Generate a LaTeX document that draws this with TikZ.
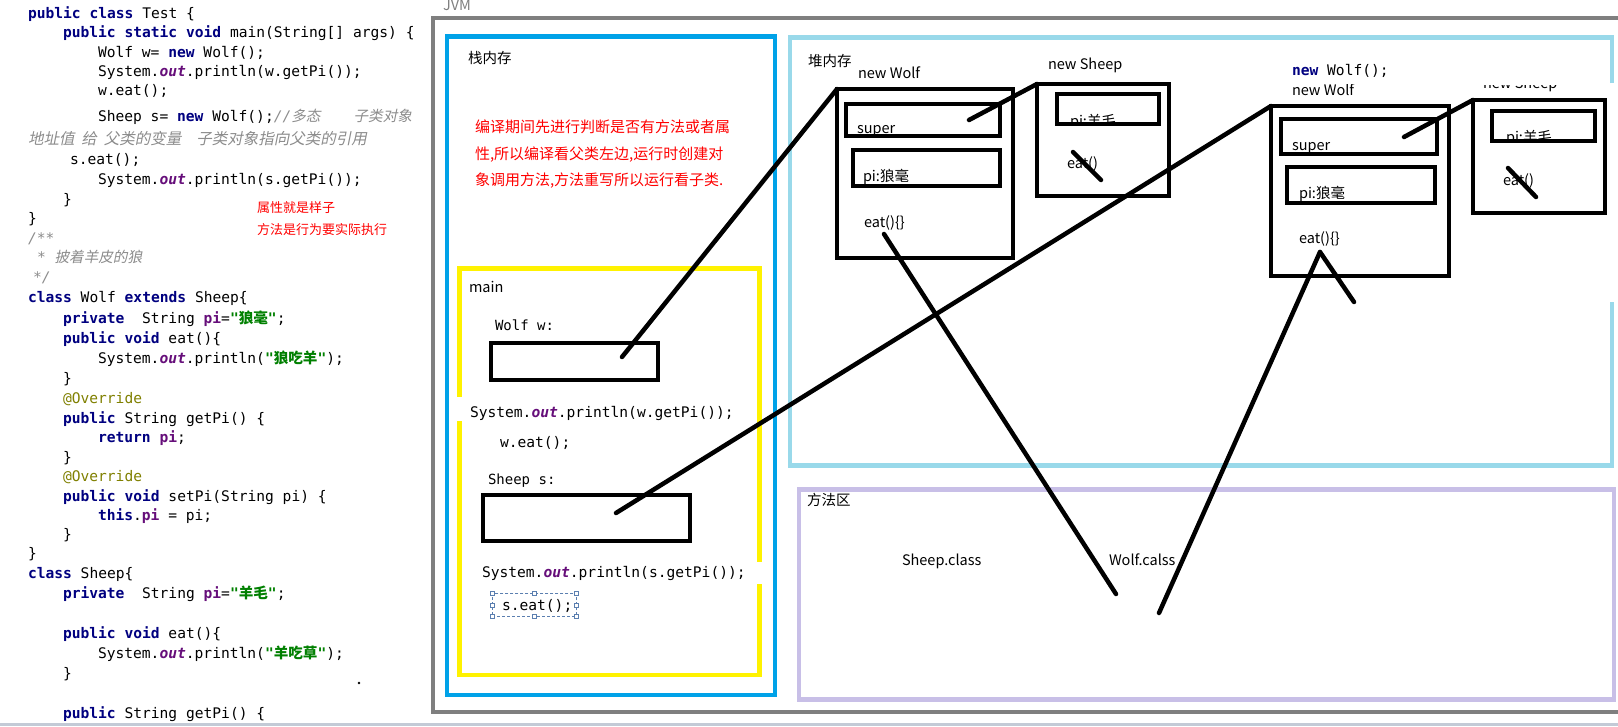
\documentclass[tikz,border=0pt]{standalone}
\usepackage{fontspec}
\usepackage{xcolor}
\setmonofont{DejaVu Sans Mono}
\newfontfamily\cjk{Noto Sans CJK SC}
\newfontfamily\cjkit[FakeSlant=0.2]{Noto Sans CJK SC}
\definecolor{kwc}{HTML}{000080}
\definecolor{fldc}{HTML}{660E7A}
\definecolor{strc}{HTML}{008000}
\definecolor{annc}{HTML}{808000}
\definecolor{cmc}{HTML}{8C8C8C}
\definecolor{jvmc}{HTML}{7F7F7F}
\definecolor{stackc}{HTML}{00A2E8}
\definecolor{yelc}{HTML}{FFF200}
\definecolor{heapc}{HTML}{99D9EA}
\definecolor{methc}{HTML}{C8BFE7}
\definecolor{botc}{HTML}{C3CAD6}
\definecolor{selc}{HTML}{5B7FB0}
\newcommand\kw[1]{\textcolor{kwc}{\bfseries #1}}
\newcommand\fld[1]{\textcolor{fldc}{\bfseries #1}}
\newcommand\outf{\textcolor{fldc}{\bfseries\itshape out}}
\newcommand\jstr[1]{\textcolor{strc}{\bfseries"{\cjk\bfseries #1}"}}
\newcommand\ann[1]{\textcolor{annc}{#1}}
\begin{document}
\begin{tikzpicture}[x=1pt,y=-1pt,
  code/.style={anchor=base west, inner sep=0pt, outer sep=0pt, font=\ttfamily\fontsize{14.6}{17}\selectfont},
  lbl/.style={anchor=base west, inner sep=0pt, outer sep=0pt, font=\cjk\fontsize{14.5}{17}\selectfont},
  redtxt/.style={anchor=base west, inner sep=0pt, outer sep=0pt, text=red, font=\cjk\fontsize{15}{18}\selectfont},
  region/.style={draw=#1, line width=4.5pt, anchor=north west, inner sep=0pt, outer sep=0pt},
  box/.style={draw=black, line width=4.5pt, anchor=north west, inner sep=0pt, outer sep=0pt},
  link/.style={draw=black, line width=4.5pt, line cap=round},
  handle/.style={draw=selc, fill=white, line width=0.6pt, minimum size=4pt, inner sep=0pt},
]
\useasboundingbox (0,0) rectangle (1618,726);
\fill[white] (0,0) rectangle (1618,726);

% ---------- code listing ----------
\node[code] (c1) at (28,18) {\kw{public} \kw{class} Test \{};
\node[code] (c2) at (63,37) {\kw{public} \kw{static} \kw{void} main(String[] args) \{};
\node[code] (c3) at (98,57) {Wolf w= \kw{new} Wolf();};
\node[code] (c4) at (98,76) {System.\outf.println(w.getPi());};
\node[code] (c5) at (98,95) {w.eat();};
\node[code] (c6) at (98,121) {Sheep s= \kw{new} Wolf();\textcolor{cmc}{\itshape //{\cjkit 多态}\hspace{33pt}{\cjkit 子类对象}}};
\node[code] (c7) at (28,144) {\textcolor{cmc}{\cjkit\fontsize{15.5}{18}\selectfont 地址值\hspace{7pt}给\hspace{7pt}父类的变量\hspace{15pt}子类对象指向父类的引用}};
\node[code] (c8) at (70,164) {s.eat();};
\node[code] (c9) at (98,184) {System.\outf.println(s.getPi());};
\node[code] (c10) at (63,204) {\}};
\node[code] (c11) at (28,223) {\}};
\node[code] (c12) at (28,243) {\textcolor{cmc}{\itshape /**}};
\node[code] (c13) at (37,262) {\textcolor{cmc}{\itshape *~{\cjkit 披着羊皮的狼}}};
\node[code] (c14) at (33,282) {\textcolor{cmc}{\itshape */}};
\node[code] (c15) at (28,302) {\kw{class} Wolf \kw{extends} Sheep\{};
\node[code] (c16) at (63,323) {\kw{private}~~String \fld{pi}=\jstr{狼毫};};
\node[code] (c17) at (63,343) {\kw{public} \kw{void} eat()\{};
\node[code] (c18) at (98,363) {System.\outf.println(\jstr{狼吃羊});};
\node[code] (c19) at (63,383) {\}};
\node[code] (c20) at (63,403) {\ann{@Override}};
\node[code] (c21) at (63,423) {\kw{public} String getPi() \{};
\node[code] (c22) at (98,442) {\kw{return} \fld{pi};};
\node[code] (c23) at (63,462) {\}};
\node[code] (c24) at (63,481) {\ann{@Override}};
\node[code] (c25) at (63,501) {\kw{public} \kw{void} setPi(String pi) \{};
\node[code] (c26) at (98,520) {\kw{this}.\fld{pi} = pi;};
\node[code] (c27) at (63,539) {\}};
\node[code] (c28) at (28,558) {\}};
\node[code] (c29) at (28,578) {\kw{class} Sheep\{};
\node[code] (c30) at (63,598) {\kw{private}~~String \fld{pi}=\jstr{羊毛};};
\node[code] (c31) at (63,638) {\kw{public} \kw{void} eat()\{};
\node[code] (c32) at (98,658) {System.\outf.println(\jstr{羊吃草});};
\node[code] (c33) at (63,678) {\}};
\node[code] (c34) at (63,718) {\kw{public} String getPi() \{};
\node[redtxt, font=\cjk\fontsize{13}{16}\selectfont] (n1) at (257,212) {属性就是样子};
\node[redtxt, font=\cjk\fontsize{13}{16}\selectfont] (n2) at (257,234) {方法是行为要实际执行};
\fill (359,683) circle (1.3);

% ---------- containers ----------
\draw[line width=4pt, draw=jvmc] (1630,18) -- (433,18) -- (433,712) -- (1630,712);
\node[lbl, text=jvmc] (jvm) at (443,10) {JVM};
\node[region=stackc, minimum width=328pt, minimum height=658.5pt] (stack) at (447,36.5) {};
\node[region=yelc, minimum width=300pt, minimum height=406.5pt] (mainf) at (459.5,268.5) {};
\fill[white] (455.5,397) rectangle (464.5,421);
\fill[white] (755,562) rectangle (764.5,584);
\draw[line width=4.5pt, draw=heapc] (1612,83) -- (1612,37.5) -- (790,37.5) -- (790,465.5) -- (1612,465.5) -- (1612,302);
\node[region=methc, minimum width=815pt, minimum height=210pt] (method) at (799,489.5) {};
\draw[line width=3pt, draw=botc] (0,724.5) -- (1618,724.5);

% ---------- stack contents ----------
\node[lbl] (stacklbl) at (468,63.5) {栈内存};
\node[redtxt] (r1) at (475,132) {编译期间先进行判断是否有方法或者属};
\node[redtxt] (r2) at (475,159) {性,所以编译看父类左边,运行时创建对};
\node[redtxt] (r3) at (475,185) {象调用方法,方法重写所以运行看子类.};
\node[lbl] (mainlbl) at (469,292) {main};
\node[code, font=\ttfamily\fontsize{14}{17}\selectfont] (wlbl) at (495,330) {Wolf w:};
\node[box, minimum width=167pt, minimum height=37pt] (wbox) at (491,343) {};
\node[code] (sp1) at (470,417) {System.\outf.println(w.getPi());};
\node[code] (we) at (500,447) {w.eat();};
\node[code, font=\ttfamily\fontsize{14}{17}\selectfont] (slbl) at (488,484) {Sheep s:};
\node[box, minimum width=207pt, minimum height=46pt] (sbox) at (483,495) {};
\node[code] (sp2) at (482,577) {System.\outf.println(s.getPi());};
\node[code] (se) at (502,610) {s.eat();};
\node[draw=selc, line width=0.7pt, dash pattern=on 3pt off 2pt, anchor=north west, inner sep=0pt, minimum width=84pt, minimum height=23pt] (sel) at (492,593) {};
\foreach \a/\n in {north west/1, north/2, north east/3, west/4, east/5, south west/6, south/7, south east/8}
  \node[handle] (hd\n) at (sel.\a) {};

% ---------- heap ----------
\node[lbl] (heaplbl) at (808,66) {堆内存};
\node[lbl] (nw1) at (858,78) {new Wolf};
\node[lbl] (ns1) at (1048,69) {new Sheep};
\node[lbl] (sup1t) at (857,133) {super};
\node[lbl] (pi1t) at (863,181) {pi:狼毫};
\node[lbl] (eat1t) at (864,227) {eat()\{\}};
\begin{scope}
  \clip (1040,90) rectangle (1165,124);
  \node[lbl] (ps1t) at (1070,126) {pi:羊毛};
\end{scope}
\node[lbl] (se1t) at (1067,168) {eat()};
\node[box, minimum width=176pt, minimum height=169pt] (wolf1) at (837,89) {};
\node[box, minimum width=154pt, minimum height=32pt] (super1) at (846,104) {};
\node[box, minimum width=147pt, minimum height=36pt] (pi1) at (853,150) {};
\node[box, minimum width=132pt, minimum height=112pt] (sheep1) at (1037,84) {};
\node[box, minimum width=102pt, minimum height=30pt] (ps1) at (1057,94) {};

\node[code] (nw2code) at (1292,75) {\kw{new} Wolf();};
\begin{scope}
  \clip (1280,84) rectangle (1400,100);
  \node[lbl] (nw2) at (1292,95) {new Wolf};
\end{scope}
\begin{scope}
  \clip (1470,85) rectangle (1600,92);
  \node[lbl] (ns2) at (1483,88) {new Sheep};
\end{scope}
\node[lbl] (sup2t) at (1292,150) {super};
\node[lbl] (pi2t) at (1299,198) {pi:狼毫};
\node[lbl] (eat2t) at (1299,243) {eat()\{\}};
\begin{scope}
  \clip (1480,105) rectangle (1600,141);
  \node[lbl] (ps2t) at (1506,142) {pi:羊毛};
\end{scope}
\node[lbl] (se2t) at (1503,185) {eat()};
\node[box, minimum width=178pt, minimum height=170pt] (wolf2) at (1271,106) {};
\node[box, minimum width=156pt, minimum height=35pt] (super2) at (1281,119) {};
\node[box, minimum width=148pt, minimum height=36pt] (pi2) at (1287,167) {};
\node[box, minimum width=132pt, minimum height=113pt] (sheep2) at (1473,100) {};
\node[box, minimum width=103pt, minimum height=30pt] (ps2) at (1492,111) {};

% ---------- method area ----------
\node[lbl] (methlbl) at (807,505) {方法区};
\node[lbl] (sheepcls) at (902,565) {Sheep.class};
\node[lbl] (wolfcls) at (1109,565) {Wolf.calss};

% ---------- connectors ----------
\coordinate (wref) at (622,357);
\coordinate (sref) at (616,513);
\coordinate (sup1p) at (969,120);
\coordinate (sup2p) at (1404,137);
\coordinate (eat1p) at (884,234);
\coordinate (eat2p) at (1320,252);
\coordinate (m1) at (1116,594);
\coordinate (m2) at (1159,613);
\coordinate (eat2q) at (1354,302);
\coordinate (x1a) at (1073,152);
\coordinate (x1b) at (1101,180);
\coordinate (x2a) at (1508,168);
\coordinate (x2b) at (1536,197);
\draw[link] (wref) -- (wolf1.north west);
\draw[link] (sup1p) -- (sheep1.north west);
\draw[link] (sref) -- (wolf2.north west);
\draw[link] (sup2p) -- (sheep2.north west);
\draw[link] (eat1p) -- (m1);
\draw[link] (eat2p) -- (m2);
\draw[link] (eat2p) -- (eat2q);
\draw[link] (x1a) -- (x1b);
\draw[link] (x2a) -- (x2b);
\end{tikzpicture}
\end{document}
